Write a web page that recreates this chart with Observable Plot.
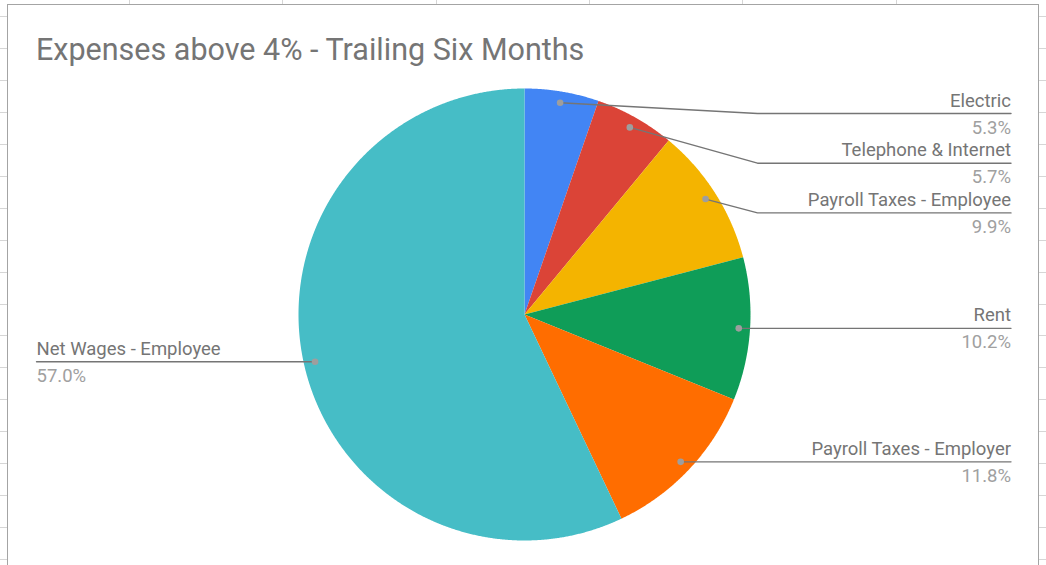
<!DOCTYPE html>
<html>
<head>
<meta charset="utf-8">
<script src="https://cdn.jsdelivr.net/npm/d3@7"></script>
<script src="https://cdn.jsdelivr.net/npm/@observablehq/plot@0.6"></script>
<style>
  html, body { margin: 0; padding: 0; width: 1046px; height: 565px; overflow: hidden; background: #fff; font-family: Roboto, "Noto Sans", sans-serif; }
  .gl { position: absolute; background: #d6d6d6; }
  #frame { position: absolute; left: 7px; top: 4px; width: 1030px; height: 700px; border: 1.5px solid #a4a4a4; background: #fff; }
  #title { position: absolute; left: 36px; top: 35px; font-size: 30.5px; line-height: 30.5px; color: #757575; white-space: nowrap; }
  #chart { position: absolute; left: 0; top: 0; }
</style>
</head>
<body>
<div id="grid"></div>
<div id="frame"></div>
<div id="title">Expenses above 4% - Trailing Six Months</div>
<div id="chart"></div>
<script>
// ---- data ----
const categories = ["Electric", "Telephone & Internet", "Payroll Taxes - Employee", "Rent", "Payroll Taxes - Employer", "Net Wages - Employee"];
const shares = [5.3, 5.7, 9.9, 10.2, 11.8, 57.0];
const valueLabels = ["5.3%", "5.7%", "9.9%", "10.2%", "11.8%", "57.0%"];
const sliceColors = ["#4285F4", "#DB4437", "#F4B400", "#0F9D58", "#FF6D00", "#46BDC6"];

// ---- layout ----
const W = 1046, H = 565;
const cx = 524, cy = 314, R = 226;
const dotFrac = 0.95;
const elbowOff = 233;
const rightEnd = 1010.5, leftEnd = 36;
const labelGap = 49.7, firstTop = 113;
const labelSize = 18.5;

// spreadsheet grid decoration
const grid = document.getElementById("grid");
for (let y = 16; y < H; y += 31.95) {
  for (const [x, w] of [[0, 7], [1039, 7]]) {
    const d = document.createElement("div"); d.className = "gl";
    Object.assign(d.style, {left: x + "px", top: Math.round(y) + "px", width: w + "px", height: "1px"});
    grid.appendChild(d);
  }
}
for (let x = 129; x < W; x += 153.3) {
  const d = document.createElement("div"); d.className = "gl";
  Object.assign(d.style, {left: Math.round(x) + "px", top: "0px", width: "1px", height: "5px"});
  grid.appendChild(d);
}

// ---- geometry from data ----
const data = categories.map((c, i) => ({category: c, value: shares[i], label: valueLabels[i]}));
const arcs = d3.pie().sort(null).value(d => d.value).startAngle(0).endAngle(2 * Math.PI)(data);

const pt = (a, r) => [cx + r * Math.sin(a), cy - r * Math.cos(a)];
const slicePts = [];
arcs.forEach(a => {
  const c = a.data.category;
  slicePts.push({category: c, x: cx, y: cy});
  const n = Math.max(2, Math.ceil((a.endAngle - a.startAngle) / (Math.PI / 720)));
  for (let k = 0; k <= n; k++) {
    const ang = a.startAngle + (a.endAngle - a.startAngle) * k / n;
    const [x, y] = pt(ang, R);
    slicePts.push({category: c, x, y});
  }
});

// labels with simple collision avoidance
const labels = arcs.map(a => {
  const mid = (a.startAngle + a.endAngle) / 2;
  const [dx, dy] = pt(mid, R * dotFrac);
  const right = mid < Math.PI;
  return {category: a.data.category, label: a.data.label, dx, dy, right, ly: dy};
});
let prev = -Infinity;
labels.filter(l => l.right).sort((a, b) => a.dy - b.dy).forEach(l => {
  l.ly = Math.max(l.dy, prev + labelGap, firstTop);
  prev = l.ly;
});
const leaderPts = [];
labels.forEach(l => {
  const ex = l.right ? cx + elbowOff : cx - elbowOff;
  const endX = l.right ? rightEnd : leftEnd;
  leaderPts.push({category: l.category, x: l.dx, y: l.dy});
  if (l.right ? ex > l.dx : ex < l.dx) leaderPts.push({category: l.category, x: ex, y: l.ly});
  leaderPts.push({category: l.category, x: endX, y: l.ly});
  l.tx = endX;
});
const rightLabels = labels.filter(l => l.right);
const leftLabels = labels.filter(l => !l.right);

const textMarks = (arr, anchor) => [
  Plot.text(arr, {x: "tx", y: "ly", text: "category", textAnchor: anchor, lineAnchor: "bottom", dy: -7, fontSize: labelSize, fill: "#757575"}),
  Plot.text(arr, {x: "tx", y: "ly", text: "label", textAnchor: anchor, lineAnchor: "bottom", dy: 20, fontSize: labelSize, fill: "#a0a0a0"})
];

const chart = Plot.plot({
  width: W, height: H, margin: 0,
  x: {domain: [0, W], range: [0, W], axis: null},
  y: {domain: [0, H], range: [0, H], axis: null},
  color: {domain: categories, range: sliceColors},
  style: {background: "transparent", fontFamily: "Roboto, sans-serif"},
  marks: [
    Plot.line(slicePts, {x: "x", y: "y", z: "category", fill: "category", stroke: "none", curve: "linear-closed"}),
    Plot.line(leaderPts, {x: "x", y: "y", z: "category", stroke: "#757575", strokeWidth: 1.4}),
    Plot.dot(labels, {x: "dx", y: "dy", r: 3.3, fill: "#9e9e9e", stroke: "none"}),
    ...textMarks(rightLabels, "end"),
    ...textMarks(leftLabels, "start")
  ]
});
document.getElementById("chart").appendChild(chart);
</script>
</body>
</html>
